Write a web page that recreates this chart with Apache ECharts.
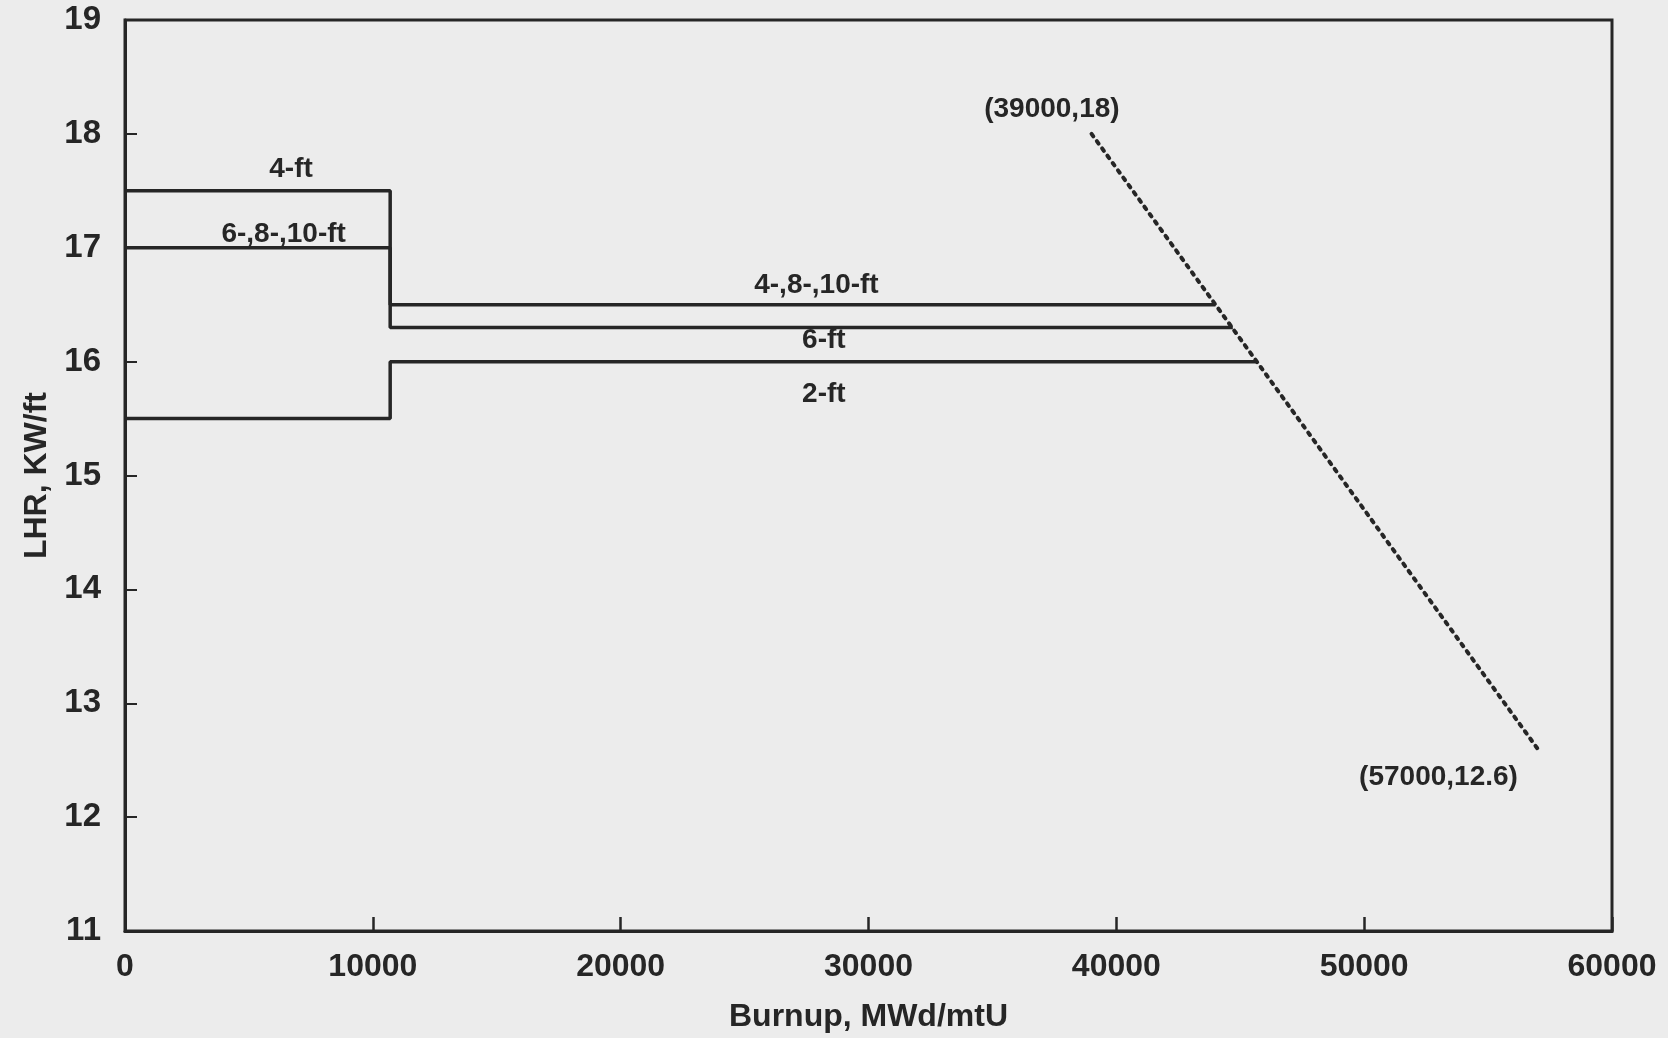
<!DOCTYPE html>
<html>
<head>
<meta charset="utf-8">
<script src="https://cdn.jsdelivr.net/npm/echarts@6/dist/echarts.min.js"></script>
<style>
  html, body { margin: 0; padding: 0; background: #ececec; }
  #chart { width: 1668px; height: 1038px; }
</style>
</head>
<body>
<div id="chart"></div>
<script>
// ---- data ----
const xTicks = [0, 10000, 20000, 30000, 40000, 50000, 60000];
const yTicks = [11, 12, 13, 14, 15, 16, 17, 18, 19];

// upper limit: 4-ft before the step, 4-,8-,10-ft after it
const upperX = [0, 10700, 10700, 44000];
const upperY = [17.5, 17.5, 16.5, 16.5];
// middle limit: 6-,8-,10-ft before the step, 6-ft after it
const middleX = [0, 10700, 10700, 44700];
const middleY = [17.0, 17.0, 16.3, 16.3];
// lower limit: 2-ft
const lowerX = [0, 10700, 10700, 45700];
const lowerY = [15.5, 15.5, 16.0, 16.0];
// dotted burnup limit line
const limitX = [39000, 57000];
const limitY = [18, 12.6];

// annotation texts and their anchor points (data coordinates)
const labelTexts = ['4-ft', '6-,8-,10-ft', '4-,8-,10-ft', '6-ft', '2-ft', '(39000,18)', '(57000,12.6)'];
const labelX = [6700, 6400, 27900, 28200, 28200, 37400, 53000];
const labelY = [17.69, 17.12, 16.67, 16.19, 15.71, 18.22, 12.35];

function pairs(xs, ys) { return xs.map((x, i) => [x, ys[i]]); }

const ink = '#262626';
const font = '"Liberation Sans", Arial, sans-serif';

const chart = echarts.init(document.getElementById('chart'), null, { renderer: 'canvas' });

const lineStyleSolid = { color: ink, width: 3.5 };

chart.setOption({
  backgroundColor: '#ececec',
  animation: false,
  grid: {
    left: 125, right: 56, top: 20, bottom: 105,
    show: true, borderColor: ink, borderWidth: 3, backgroundColor: 'transparent'
  },
  xAxis: {
    type: 'value',
    min: xTicks[0], max: xTicks[xTicks.length - 1], interval: 10000,
    name: 'Burnup, MWd/mtU',
    nameLocation: 'middle', nameGap: 70,
    nameTextStyle: { color: ink, fontSize: 32, fontWeight: 'bold', fontFamily: font },
    axisLine: { show: true, lineStyle: { color: ink, width: 3 } },
    axisTick: { show: true, inside: true, length: 14, lineStyle: { color: ink, width: 2.5 } },
    axisLabel: {
      color: ink, fontSize: 32, fontWeight: 'bold', fontFamily: font, margin: 20,
      formatter: v => (xTicks.indexOf(v) >= 0 ? String(v) : '')
    },
    splitLine: { show: false }
  },
  yAxis: {
    type: 'value',
    min: yTicks[0], max: yTicks[yTicks.length - 1], interval: 1,
    name: 'LHR, KW/ft',
    nameLocation: 'middle', nameGap: 70,
    nameTextStyle: { color: ink, fontSize: 32, fontWeight: 'bold', fontFamily: font },
    axisLine: { show: true, lineStyle: { color: ink, width: 3 } },
    axisTick: { show: true, inside: true, length: 12, lineStyle: { color: ink, width: 2 } },
    axisLabel: {
      color: ink, fontSize: 33, fontWeight: 'bold', fontFamily: font, margin: 24,
      formatter: v => (yTicks.indexOf(v) >= 0 ? String(v) : '')
    },
    splitLine: { show: false }
  },
  series: [
    {
      name: '4-ft / 4-,8-,10-ft', type: 'line', data: pairs(upperX, upperY),
      showSymbol: false, symbol: 'none', lineStyle: lineStyleSolid, z: 3
    },
    {
      name: '6-,8-,10-ft / 6-ft', type: 'line', data: pairs(middleX, middleY),
      showSymbol: false, symbol: 'none', lineStyle: lineStyleSolid, z: 3
    },
    {
      name: '2-ft', type: 'line', data: pairs(lowerX, lowerY),
      showSymbol: false, symbol: 'none', lineStyle: lineStyleSolid, z: 3
    },
    {
      name: 'Burnup limit', type: 'line', data: pairs(limitX, limitY),
      showSymbol: false, symbol: 'none',
      lineStyle: { color: ink, width: 4, type: [3, 6], cap: 'round' }, z: 3
    },
    {
      name: 'labels', type: 'scatter', symbolSize: 0,
      itemStyle: { opacity: 1, color: ink },
      data: labelTexts.map((t, i) => ({ name: t, value: [labelX[i], labelY[i]] })),
      label: {
        show: true, position: 'inside', formatter: p => p.name, opacity: 1,
        color: ink, fontSize: 28, fontWeight: 'bold', fontFamily: font
      },
      silent: true, z: 4
    }
  ]
});
</script>
</body>
</html>
